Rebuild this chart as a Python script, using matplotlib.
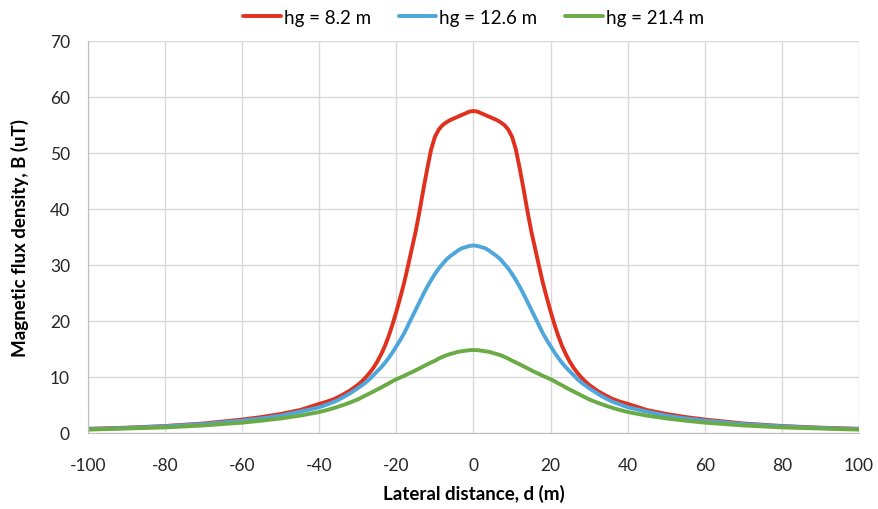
import matplotlib
matplotlib.use("Agg")
import matplotlib.pyplot as plt

# Lateral distance (m), one side of the symmetric profile
half_d = list(range(0, 31)) + [32, 34, 36, 38, 40, 45, 50, 55, 60, 70, 80, 90, 100]

# Magnetic flux density (uT) at those distances
half_red = [57.5, 57.4, 57.1, 56.8, 56.5, 56.2, 55.9, 55.5, 55.0, 54.2, 52.9,
            50.6, 47.2, 43.5, 39.6, 36.0, 32.9, 29.8, 26.8, 24.2, 21.7,
            19.4, 17.3, 15.5, 14.0, 12.7, 11.6, 10.7, 9.9, 9.2, 8.6,
            7.6, 6.8, 6.1, 5.6, 5.2, 4.1, 3.4, 2.85, 2.4, 1.7, 1.25, 0.95, 0.75]
half_blue = [33.5, 33.4, 33.2, 33.0, 32.6, 32.1, 31.6, 31.0, 30.2, 29.4, 28.4,
             27.3, 26.1, 24.8, 23.4, 22.0, 20.6, 19.2, 17.8, 16.6, 15.5,
             14.4, 13.4, 12.5, 11.7, 11.0, 10.3, 9.6, 9.0, 8.5, 8.0,
             7.1, 6.3, 5.6, 5.1, 4.6, 3.8, 3.1, 2.6, 2.2, 1.6, 1.2, 0.9, 0.7]
half_green = [14.8, 14.8, 14.7, 14.6, 14.5, 14.3, 14.1, 13.9, 13.6, 13.3, 12.9,
              12.6, 12.25, 11.9, 11.55, 11.2, 10.85, 10.55, 10.2, 9.9, 9.6,
              9.25, 8.85, 8.5, 8.1, 7.75, 7.4, 7.05, 6.7, 6.35, 6.0,
              5.45, 4.95, 4.5, 4.1, 3.75, 3.1, 2.6, 2.2, 1.85, 1.35, 1.0, 0.8, 0.6]

d = [-v for v in half_d[:0:-1]] + half_d
red = half_red[:0:-1] + half_red
blue = half_blue[:0:-1] + half_blue
green = half_green[:0:-1] + half_green

labels = ["hg = 8.2 m", "hg = 12.6 m", "hg = 21.4 m"]
colors = ["#E0301E", "#4EA6DC", "#6AAB45"]

plt.rcParams["font.family"] = ["Lato", "DejaVu Sans"]
plt.rcParams["axes.unicode_minus"] = False
fig = plt.figure(figsize=(8.79, 5.10), dpi=100)
ax = fig.add_axes([88 / 879, 1 - 434 / 510, (859 - 88) / 879, (434 - 42) / 510])

for y, lab, c in zip([red, blue, green], labels, colors):
    ax.plot(d, y, color=c, lw=2.8, label=lab, solid_capstyle="round",
            solid_joinstyle="round")

ax.set_xlim(-100, 100)
ax.set_ylim(0, 70)
ax.set_xticks(range(-100, 101, 20))
ax.set_yticks(range(0, 71, 10))
ax.grid(True, color="#D9D9D9", lw=1)
ax.set_axisbelow(True)
for s in ["top", "right"]:
    ax.spines[s].set_visible(False)
for s in ["left", "bottom"]:
    ax.spines[s].set_color("#BFBFBF")
ax.tick_params(length=0, labelsize=12.5, labelcolor="#262626")
ax.tick_params(axis="x", pad=17)
ax.tick_params(axis="y", pad=13)

ax.set_xlabel("Lateral distance, d (m)", fontsize=13.5, fontweight="bold", labelpad=8)
ax.set_ylabel("Magnetic flux density, B (uT)", fontsize=13.5, fontweight="bold", labelpad=15)

ax.legend(loc="upper center", bbox_to_anchor=(0.5, 1.125), ncol=3, frameon=False,
          fontsize=13.5, handlelength=2.0, handletextpad=0.15, columnspacing=1.5)

fig.savefig("out.png", dpi=100)
